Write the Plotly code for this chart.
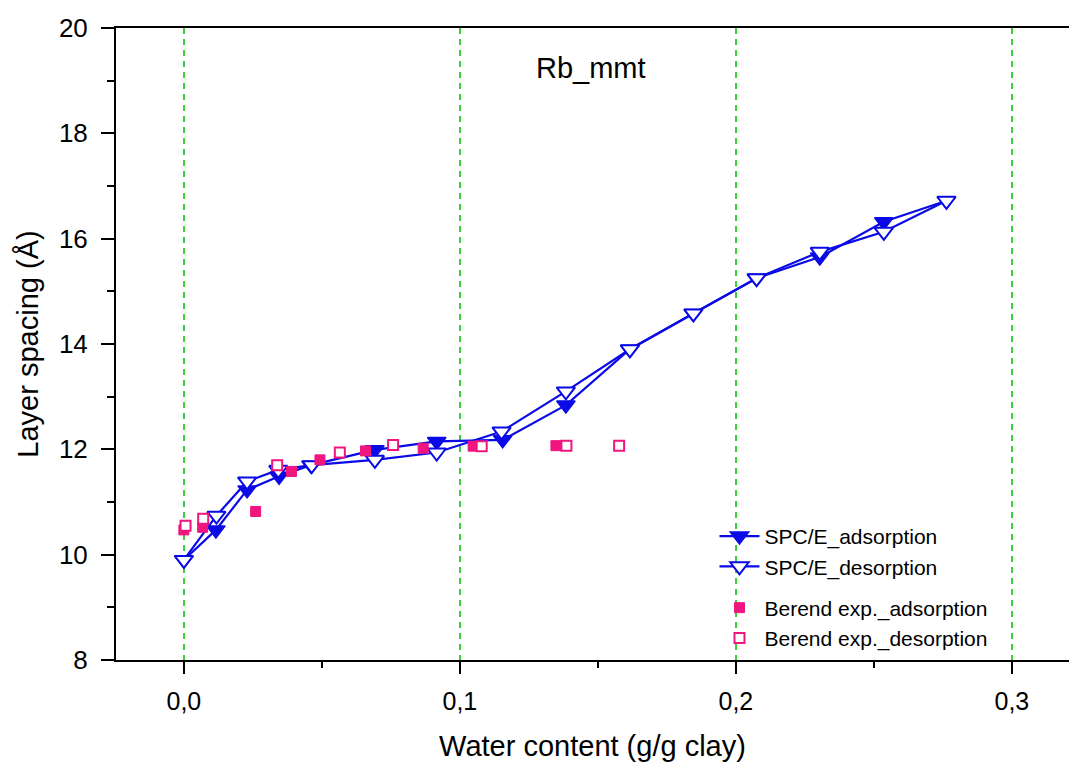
import plotly.graph_objects as go

# SPC/E simulation data
spc_ads_x = [0.0, 0.0116, 0.0229, 0.0345, 0.046, 0.0692, 0.0916, 0.1155, 0.1384, 0.1616, 0.1846, 0.2075, 0.2304, 0.2536, 0.2763]
spc_ads_y = [9.90, 10.47, 11.23, 11.49, 11.70, 11.99, 12.15, 12.18, 12.84, 13.90, 14.58, 15.25, 15.65, 16.32, 16.72]
spc_des_x = [0.0, 0.0118, 0.0229, 0.0342, 0.0463, 0.0692, 0.0916, 0.1151, 0.1384, 0.1616, 0.1846, 0.2075, 0.2304, 0.2536, 0.2763]
spc_des_y = [9.90, 10.74, 11.39, 11.61, 11.70, 11.80, 11.94, 12.34, 13.10, 13.90, 14.58, 15.25, 15.75, 16.13, 16.72]

# Berend experimental data
ber_ads_x = [0.0, 0.0068, 0.026, 0.039, 0.0493, 0.0658, 0.0867, 0.1048, 0.1348]
ber_ads_y = [10.47, 10.52, 10.82, 11.58, 11.80, 11.97, 12.02, 12.06, 12.07]
ber_des_x = [0.0006, 0.0070, 0.0338, 0.0565, 0.0758, 0.1079, 0.1386, 0.1577]
ber_des_y = [10.55, 10.68, 11.70, 11.94, 12.08, 12.06, 12.07, 12.07]

x_tickvals = [0.0, 0.1, 0.2, 0.3]
x_ticktext = ["0,0", "0,1", "0,2", "0,3"]
y_tickvals = [8, 10, 12, 14, 16, 18, 20]

BLUE = "#0A0AE6"
PINK = "#F0157F"
FONT = "Liberation Sans, Arial, sans-serif"

fig = go.Figure()

fig.add_trace(go.Scatter(
    x=spc_ads_x, y=spc_ads_y, mode="lines+markers", name="SPC/E_adsorption",
    legendgroup="spc",
    line=dict(color=BLUE, width=2.2),
    marker=dict(symbol="triangle-down", size=16, color=BLUE, line=dict(color=BLUE, width=1.5)),
))
fig.add_trace(go.Scatter(
    x=spc_des_x, y=spc_des_y, mode="lines+markers", name="SPC/E_desorption",
    legendgroup="spc",
    line=dict(color=BLUE, width=2.2),
    marker=dict(symbol="triangle-down", size=16, color="white", line=dict(color=BLUE, width=2)),
))
fig.add_trace(go.Scatter(
    x=ber_ads_x, y=ber_ads_y, mode="markers", name="Berend exp._adsorption",
    legendgroup="ber",
    marker=dict(symbol="square", size=10, color=PINK, line=dict(color=PINK, width=1)),
))
fig.add_trace(go.Scatter(
    x=ber_des_x, y=ber_des_y, mode="markers", name="Berend exp._desorption",
    legendgroup="ber",
    marker=dict(symbol="square", size=10, color="white", line=dict(color=PINK, width=2)),
))

fig.add_annotation(
    x=0.1475, y=19.24, xref="x", yref="y", text="Rb_mmt", showarrow=False,
    font=dict(family=FONT, size=29, color="black"), xanchor="center", yanchor="middle",
)

fig.update_layout(
    width=1069, height=762,
    margin=dict(l=116, r=0, t=28, b=102, autoexpand=False),
    paper_bgcolor="white", plot_bgcolor="white",
    font=dict(family=FONT, color="black"),
    showlegend=True,
    legend=dict(
        x=0.628, y=0.228, xanchor="left", yanchor="top",
        bgcolor="rgba(0,0,0,0)", font=dict(family=FONT, size=21, color="black"),
        traceorder="grouped", tracegroupgap=11, itemwidth=40,
    ),
    xaxis=dict(
        range=[-0.0246, 0.3207],
        tickvals=x_tickvals, ticktext=x_ticktext,
        ticks="outside", ticklen=12, tickwidth=2, tickcolor="black",
        minor=dict(ticks="outside", ticklen=6, tickwidth=2, tickcolor="black", dtick=0.05, tick0=0, showgrid=False),
        showline=True, linecolor="black", linewidth=2, mirror=True,
        showgrid=True, gridcolor="#3CCF3C", gridwidth=1.5, griddash="6px,5px",
        zeroline=False,
        tickfont=dict(family=FONT, size=25),
        ticklabelstandoff=6,
        title=dict(text="Water content (g/g clay)", font=dict(family=FONT, size=29), standoff=22),
    ),
    yaxis=dict(
        range=[8, 20],
        tickvals=y_tickvals,
        ticks="outside", ticklen=13, tickwidth=2, tickcolor="black",
        minor=dict(ticks="outside", ticklen=7, tickwidth=2, tickcolor="black", dtick=1, tick0=0, showgrid=False),
        showline=True, linecolor="black", linewidth=2, mirror=False,
        showgrid=False, zeroline=False,
        tickfont=dict(family=FONT, size=26),
        ticklabelstandoff=8,
        title=dict(text="Layer spacing (Å)", font=dict(family=FONT, size=29), standoff=12),
    ),
)

fig.write_html("out.html")
